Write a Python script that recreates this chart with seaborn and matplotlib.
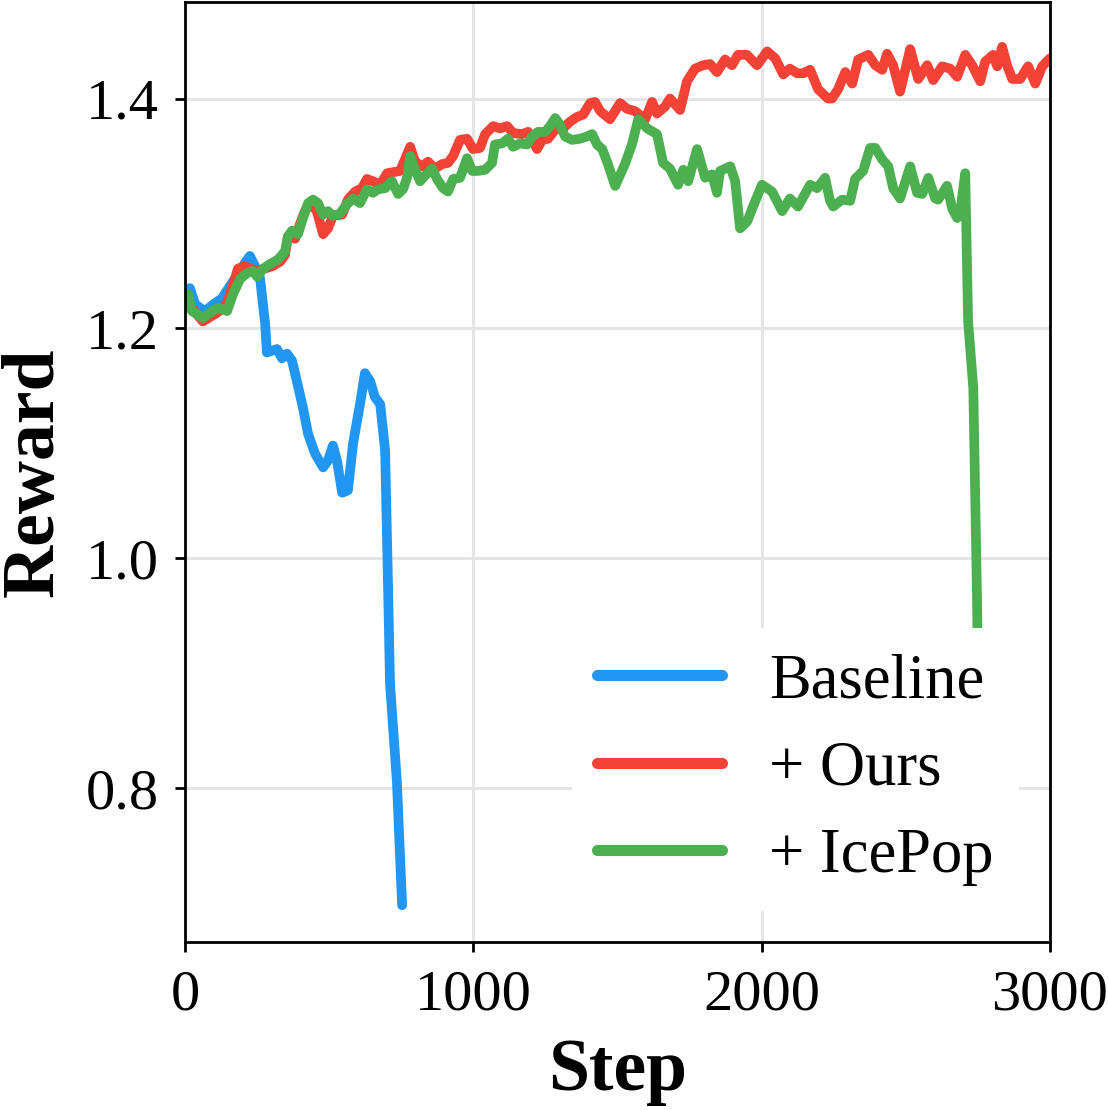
import matplotlib.pyplot as plt
import numpy as np
import pandas as pd
import seaborn as sb

# Baseline (blue)
base_step = [17, 35, 69, 104, 128, 156, 184, 208, 225, 243, 260, 278, 284, 319, 336, 354,
             371, 388, 409, 427, 451, 479, 496, 513, 527, 545, 565, 583, 597, 607, 624, 642,
             659, 677, 694, 704, 711, 735, 753]
base_reward = [1.235, 1.221, 1.215, 1.222, 1.226, 1.237, 1.247, 1.257, 1.263, 1.254, 1.244,
               1.204, 1.179, 1.182, 1.174, 1.178, 1.172, 1.154, 1.131, 1.108, 1.091, 1.079,
               1.085, 1.098, 1.085, 1.057, 1.059, 1.100, 1.120, 1.134, 1.161, 1.154, 1.140,
               1.134, 1.094, 0.978, 0.891, 0.805, 0.698]

# + Ours (red)
ours_step = [10, 62, 114, 146, 184, 208, 250, 302, 330, 347, 357, 382, 399, 416, 434, 457,
             479, 496, 513, 545, 565, 590, 614, 631, 652, 677, 701, 746, 781, 798, 822, 843,
             867, 892, 912, 930, 954, 978, 999, 1023, 1041, 1069, 1093, 1117, 1138, 1169,
             1190, 1207, 1221, 1239, 1259, 1284, 1311, 1336, 1360, 1381, 1405, 1422, 1440,
             1474, 1509, 1533, 1561, 1596, 1620, 1637, 1665, 1682, 1717, 1741, 1769, 1797,
             1821, 1845, 1873, 1897, 1918, 1949, 1984, 2019, 2047, 2075, 2098, 2123, 2144,
             2168, 2196, 2230, 2244, 2265, 2290, 2314, 2335, 2370, 2394, 2418, 2435, 2456,
             2480, 2515, 2543, 2574, 2595, 2626, 2654, 2678, 2706, 2730, 2758, 2775, 2803,
             2817, 2834, 2851, 2869, 2897, 2924, 2949, 2973, 3000]
ours_reward = [1.222, 1.206, 1.214, 1.222, 1.252, 1.254, 1.250, 1.254, 1.258, 1.264, 1.280,
               1.278, 1.291, 1.302, 1.309, 1.302, 1.282, 1.287, 1.298, 1.299, 1.312, 1.319,
               1.322, 1.330, 1.328, 1.325, 1.335, 1.337, 1.358, 1.345, 1.341, 1.345, 1.339,
               1.343, 1.344, 1.350, 1.364, 1.365, 1.356, 1.357, 1.369, 1.376, 1.374, 1.376,
               1.370, 1.369, 1.371, 1.363, 1.356, 1.364, 1.365, 1.373, 1.374, 1.380, 1.384,
               1.386, 1.396, 1.397, 1.389, 1.382, 1.396, 1.391, 1.389, 1.382, 1.397, 1.387,
               1.393, 1.400, 1.390, 1.415, 1.426, 1.429, 1.430, 1.423, 1.434, 1.429, 1.438,
               1.438, 1.429, 1.441, 1.435, 1.421, 1.426, 1.422, 1.422, 1.425, 1.408, 1.400,
               1.400, 1.408, 1.423, 1.413, 1.434, 1.438, 1.429, 1.425, 1.439, 1.429, 1.406,
               1.443, 1.417, 1.429, 1.416, 1.428, 1.426, 1.419, 1.438, 1.429, 1.415, 1.432,
               1.438, 1.428, 1.445, 1.429, 1.417, 1.417, 1.428, 1.413, 1.428, 1.435]

# + IcePop (green)
ice_step = [10, 24, 62, 94, 114, 146, 167, 191, 215, 236, 250, 271, 295, 323, 347, 357, 371,
            392, 409, 427, 444, 461, 479, 496, 513, 538, 562, 583, 607, 631, 652, 670, 694,
            718, 739, 756, 770, 781, 798, 815, 840, 857, 874, 895, 912, 930, 954, 978, 996,
            1016, 1041, 1065, 1075, 1100, 1120, 1138, 1162, 1186, 1204, 1224, 1249, 1266,
            1284, 1301, 1318, 1342, 1370, 1394, 1412, 1429, 1447, 1464, 1492, 1526, 1550,
            1572, 1603, 1637, 1658, 1682, 1710, 1728, 1745, 1776, 1804, 1828, 1845, 1856,
            1891, 1908, 1925, 1950, 1970, 2001, 2036, 2071, 2098, 2126, 2168, 2192, 2220,
            2237, 2248, 2279, 2307, 2324, 2352, 2376, 2394, 2418, 2439, 2456, 2480, 2515,
            2539, 2557, 2578, 2602, 2612, 2643, 2661, 2678, 2689, 2706, 2716, 2734, 2747,
            2760]
ice_reward = [1.230, 1.215, 1.209, 1.215, 1.218, 1.215, 1.230, 1.243, 1.248, 1.250, 1.245,
              1.252, 1.256, 1.260, 1.267, 1.280, 1.285, 1.282, 1.296, 1.309, 1.312, 1.309,
              1.299, 1.302, 1.298, 1.300, 1.308, 1.313, 1.309, 1.321, 1.318, 1.321, 1.322,
              1.328, 1.317, 1.321, 1.331, 1.350, 1.338, 1.328, 1.335, 1.339, 1.330, 1.322,
              1.319, 1.330, 1.331, 1.348, 1.337, 1.337, 1.338, 1.344, 1.360, 1.361, 1.365,
              1.358, 1.361, 1.360, 1.367, 1.371, 1.371, 1.376, 1.383, 1.377, 1.367, 1.364,
              1.365, 1.367, 1.369, 1.360, 1.356, 1.345, 1.324, 1.343, 1.360, 1.382, 1.374,
              1.369, 1.344, 1.339, 1.325, 1.338, 1.328, 1.356, 1.331, 1.334, 1.318, 1.337,
              1.341, 1.328, 1.287, 1.293, 1.306, 1.325, 1.319, 1.302, 1.313, 1.306, 1.325,
              1.322, 1.331, 1.311, 1.306, 1.312, 1.311, 1.330, 1.337, 1.357, 1.357, 1.347,
              1.341, 1.322, 1.313, 1.341, 1.318, 1.317, 1.331, 1.313, 1.312, 1.324, 1.304,
              1.296, 1.302, 1.335, 1.206, 1.148, 0.963, 0.700]

labels = ["Baseline", "+ Ours", "+ IcePop"]
colors = ["#2196F3", "#F44336", "#4CAF50"]

if __name__ == "__main__":
    sb.set_theme(style="whitegrid")
    plt.rcParams["font.family"] = ["Liberation Serif", "DejaVu Serif"]
    plt.rcParams["text.color"] = "black"
    plt.rcParams["axes.labelcolor"] = "black"

    fig = plt.figure(figsize=(11.08, 11.10), dpi=100)
    ax = fig.add_axes([185 / 1108, 1 - 942 / 1110, 865 / 1108, 940 / 1110])

    frames = [
        pd.DataFrame({"Step": base_step, "Reward": base_reward, "Method": labels[0]}),
        pd.DataFrame({"Step": ours_step, "Reward": ours_reward, "Method": labels[1]}),
        pd.DataFrame({"Step": ice_step, "Reward": ice_reward, "Method": labels[2]}),
    ]
    df = pd.concat(frames, ignore_index=True)

    sb.lineplot(data=df, x="Step", y="Reward", hue="Method", hue_order=labels,
                palette=colors, linewidth=7, ax=ax, sort=False, estimator=None)

    ax.set_xlim(0, 3000)
    ax.set_ylim(0.666, 1.484)
    ax.set_xticks([0, 1000, 2000, 3000])
    ax.set_yticks([0.8, 1.0, 1.2, 1.4])
    ax.set_yticklabels(["0.8", "1.0", "1.2", "1.4"])
    ax.grid(True, color="#e5e5e5", linewidth=2.2)
    for sp in ax.spines.values():
        sp.set_color("black")
        sp.set_linewidth(2)
    ax.tick_params(axis="both", labelsize=42, colors="black", length=7, width=2,
                   direction="out", left=True, bottom=True)
    ax.tick_params(axis="y", pad=12)
    ax.tick_params(axis="x", pad=13)

    ax.set_xlabel("Step", fontsize=53, fontweight="bold", labelpad=12, color="black")
    ax.set_ylabel("Reward", fontsize=53, fontweight="bold", labelpad=12, color="black")

    leg = ax.legend(loc="lower right", fontsize=45, frameon=True, framealpha=1,
                    facecolor="white", edgecolor="none", handlelength=2.0,
                    handletextpad=0.75, labelspacing=0.47, borderaxespad=0.5)
    for line in leg.get_lines():
        line.set_linewidth(8)
    for t in leg.get_texts():
        t.set_color("black")

    plt.savefig("out.png", dpi=100)
    plt.close()
